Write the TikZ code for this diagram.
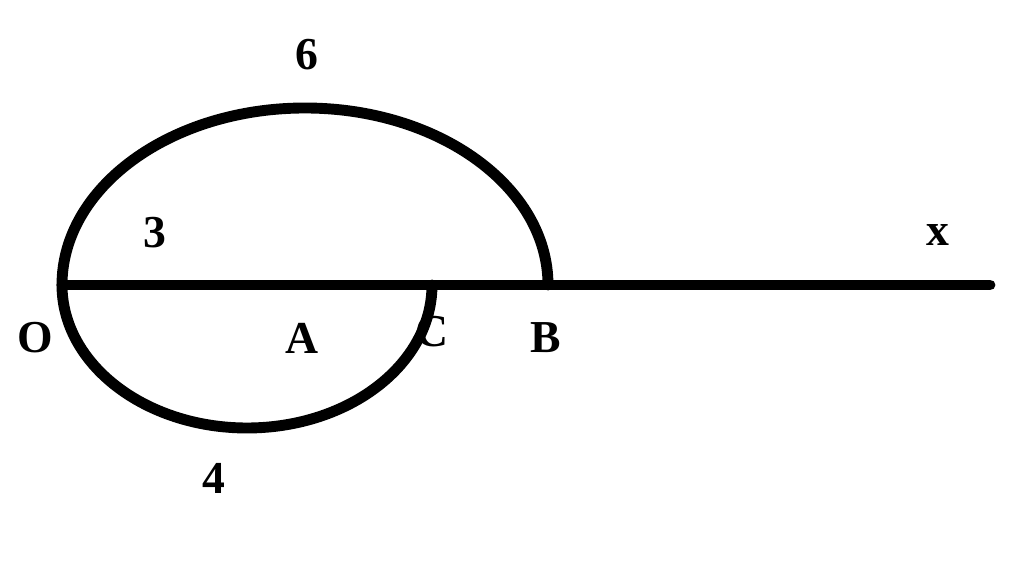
\documentclass[tikz,border=0pt]{standalone}
\usepackage{fontspec}
\setmainfont{Liberation Serif}
\begin{document}
\begin{tikzpicture}[line join = round, line cap = round,x=0.01cm,y=0.01cm,font=\fontsize{13}{15}\selectfont\bfseries]
            \useasboundingbox (0,0) rectangle (1024,582);
            \tikzset{curve/.style={line width=3.1pt}}
            \coordinate (O) at (62,297);
            \coordinate (C) at (432,297);
            \coordinate (B) at (548,297);
            \coordinate (X) at (990,297);
            % truc Ox
            \draw[curve] (O) -- (X);
            % hai nua elip
            \draw[curve] (O) arc[start angle=180,end angle=0,x radius=243,y radius=177];
            \draw[curve] (O) arc[start angle=180,end angle=360,x radius=185,y radius=143];
            % nhan
            \node (lO) at (35,244) {O};
            \node (lA) at (302,244) {A};
            \node (lC) at (432,250) {C};
            \node (lB) at (546,244) {B};
            \node (l3) at (155,349) {3};
            \node (l6) at (307,527) {6};
            \node (lx) at (938,347) {x};
            \node (l4) at (214,104) {4};
        \end{tikzpicture}
\end{document}
